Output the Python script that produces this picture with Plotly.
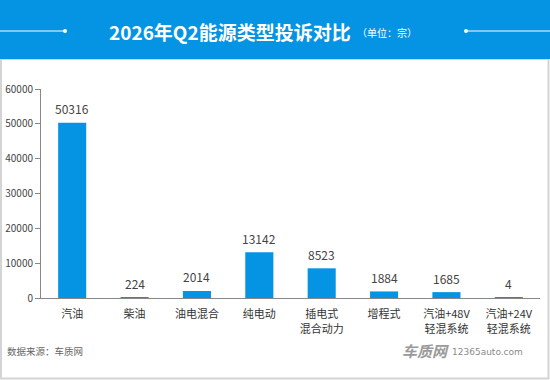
import plotly.graph_objects as go

categories = ["汽油", "柴油", "油电混合", "纯电动", "插电式<br>混合动力", "增程式", "汽油+48V<br>轻混系统", "汽油+24V<br>轻混系统"]
values = [50316, 224, 2014, 13142, 8523, 1884, 1685, 4]
y_ticks = [0, 10000, 20000, 30000, 40000, 50000, 60000]

W, H = 550, 380
L, R, T, B = 41, 10, 89, 82
PW, PH = W - L - R, H - T - B

def px(x):
    return (x - L) / PW

def py(y):
    return (H - B - y) / PH

FONT = "Noto Sans CJK SC, Microsoft YaHei, sans-serif"
BLUE = "#0593E3"

fig = go.Figure(go.Bar(
    x=categories, y=values,
    marker=dict(color=BLUE, line=dict(width=0)),
    cliponaxis=False,
))

shapes = [
    dict(type="rect", xref="paper", yref="paper", x0=px(1), x1=px(548.5), y0=py(378.5), y1=py(59),
         line=dict(color="#d4d4d4", width=2), fillcolor="white", layer="below"),
    dict(type="rect", xref="paper", yref="paper", x0=px(0), x1=px(550), y0=py(59), y1=py(0),
         line=dict(width=0), fillcolor=BLUE, layer="below"),
    dict(type="line", xref="paper", yref="paper", x0=px(0), x1=px(65), y0=py(31), y1=py(31),
         line=dict(color="white", width=1)),
    dict(type="line", xref="paper", yref="paper", x0=px(466), x1=px(550), y0=py(31), y1=py(31),
         line=dict(color="white", width=1)),
    dict(type="circle", xref="paper", yref="paper", x0=px(63), x1=px(67), y0=py(33), y1=py(29),
         line=dict(width=0), fillcolor="white"),
    dict(type="circle", xref="paper", yref="paper", x0=px(464), x1=px(468), y0=py(33), y1=py(29),
         line=dict(width=0), fillcolor="white"),
]

annotations = [
    dict(text="<b>2026年Q2能源类型投诉对比</b>", xref="paper", yref="paper", x=px(353), y=py(31),
         xanchor="right", yanchor="middle", showarrow=False, font=dict(size=19, color="white", family=FONT)),
    dict(text="（单位：宗）", xref="paper", yref="paper", x=px(355), y=py(33),
         xanchor="left", yanchor="middle", showarrow=False, font=dict(size=10, color="white", family=FONT)),
    dict(text="数据来源：车质网", xref="paper", yref="paper", x=px(5), y=py(351),
         xanchor="left", yanchor="middle", showarrow=False, font=dict(size=9.5, color="#666", family=FONT)),
    dict(text="<b><i>车质网</i></b>", xref="paper", yref="paper", x=px(400), y=py(350),
         xanchor="left", yanchor="middle", showarrow=False, font=dict(size=15, color="#9a9a9a", family=FONT)),
    dict(text="12365auto.com", xref="paper", yref="paper", x=px(450), y=py(352),
         xanchor="left", yanchor="middle", showarrow=False, font=dict(size=9, color="#8a8a8a", family="DejaVu Sans, sans-serif")),
]

for c, v in zip(categories, values):
    annotations.append(dict(text=str(v), x=c, y=v, xref="x", yref="y", xanchor="center",
                            yanchor="middle", yshift=14, showarrow=False,
                            font=dict(size=12, color="#444", family=FONT)))

fig.update_layout(
    width=W, height=H,
    margin=dict(l=L, r=R, t=T, b=B, pad=0),
    paper_bgcolor="white", plot_bgcolor="rgba(0,0,0,0)",
    bargap=0.55, showlegend=False,
    shapes=shapes, annotations=annotations,
    xaxis=dict(type="category", range=[-0.5, 7.5], showgrid=False, showline=True, automargin=False,
               linecolor="#888", linewidth=1, ticks="", zeroline=False, ticklabelstandoff=6,
               tickfont=dict(size=11, color="#333", family=FONT), fixedrange=True),
    yaxis=dict(range=[0, 60000], tickvals=y_ticks, tickformat="d", showgrid=False, showline=True,
               automargin=False,
               linecolor="#888", linewidth=1, ticks="outside", ticklen=5, tickcolor="#888",
               zeroline=False, tickfont=dict(size=10, color="#444", family=FONT), fixedrange=True),
)

fig.write_html("out.html")
